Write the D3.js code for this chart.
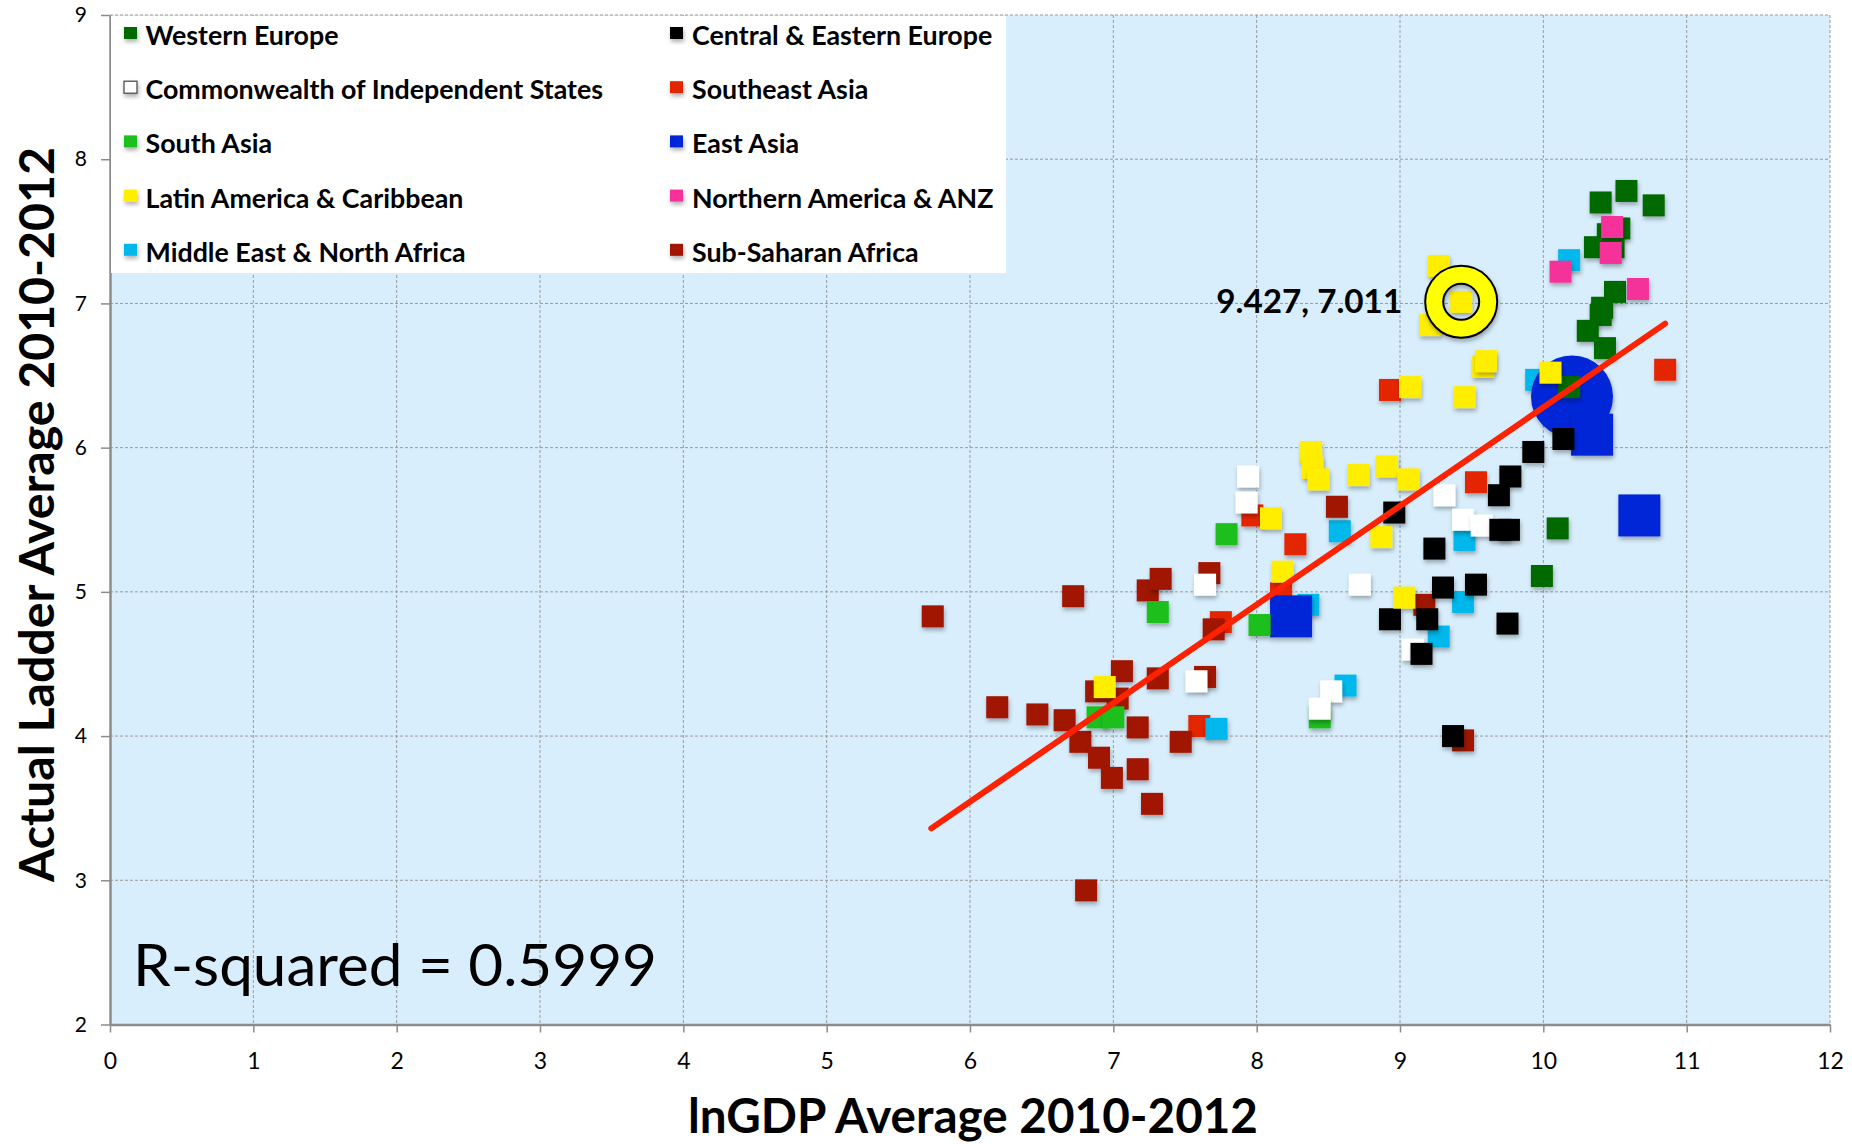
<!DOCTYPE html>
<html><head><meta charset="utf-8">
<script src="https://cdn.jsdelivr.net/npm/d3@7"></script>
<style>body{margin:0;background:#fff;} svg{display:block;}</style>
</head><body><svg id="c" width="1852" height="1144"></svg>
<script>
// ---------------- DATA ----------------
const regions = ["Western Europe","Central & Eastern Europe","Commonwealth of Independent States","Southeast Asia","South Asia","East Asia","Latin America & Caribbean","Northern America & ANZ","Middle East & North Africa","Sub-Saharan Africa"];
const westernEurope = [[10.40,7.70],[10.58,7.78],[10.77,7.68],[10.53,7.52],[10.45,7.48],[10.36,7.39],[10.49,7.39],[10.50,7.08],[10.41,6.97],[10.40,6.92],[10.31,6.81],[10.43,6.69],[10.18,6.42],[10.10,5.44],[9.99,5.11]];
const centralEasternEurope = [[8.96,5.55],[9.69,5.67],[9.77,5.80],[9.93,5.97],[10.14,6.06],[9.70,5.43],[9.76,5.43],[9.24,5.30],[9.30,5.03],[9.53,5.05],[8.93,4.81],[9.19,4.81],[9.15,4.57],[9.75,4.78],[9.37,4.00]];
const commonwealthIndependentStates = [[7.94,5.80],[7.93,5.62],[7.58,4.38],[7.64,5.05],[8.72,5.05],[9.31,5.67],[9.44,5.50],[9.57,5.46],[9.09,4.60],[8.52,4.31],[8.44,4.19]];
const southeastAsia = [[7.97,5.53],[7.75,4.79],[7.60,4.07],[8.27,5.33],[8.17,4.99],[9.53,5.76],[8.93,6.40],[10.85,6.54]];
const southAsia = [[7.31,4.86],[7.79,5.40],[8.02,4.77],[6.89,4.13],[7.00,4.13],[8.44,4.13]];
const eastAsia = [[8.24,4.83],[10.67,5.53],[10.20,6.355],[10.34,6.09]];
const eastAsiaShapes = ["square","square","circle","square"];
const latinAmerica = [[6.94,4.34],[8.10,5.51],[8.18,5.14],[8.38,5.97],[8.39,5.86],[8.43,5.78],[8.71,5.81],[8.91,5.87],[9.06,5.78],[8.87,5.38],[9.03,4.96],[9.27,7.26],[9.21,6.85],[9.427,7.011],[9.07,6.42],[9.45,6.35],[9.58,6.56],[9.60,6.60],[10.05,6.52]];
const northernAmericaANZ = [[10.12,7.22],[10.48,7.53],[10.47,7.35],[10.66,7.10]];
const middleEastNorthAfrica = [[7.72,4.05],[8.36,4.91],[8.58,5.42],[9.45,5.36],[9.44,4.93],[9.27,4.69],[8.62,4.35],[9.95,6.47],[10.18,7.30]];
const subSaharanAfrica = [[5.74,4.83],[6.72,4.97],[6.19,4.20],[6.47,4.15],[6.66,4.11],[6.77,3.96],[6.90,3.85],[6.99,3.71],[7.17,3.77],[7.27,3.53],[6.81,2.93],[7.17,4.06],[7.47,3.96],[7.06,4.45],[7.31,4.40],[6.88,4.31],[7.03,4.26],[7.64,4.41],[7.24,5.01],[7.33,5.09],[7.67,5.13],[7.70,4.74],[8.56,5.59],[9.17,4.91],[9.44,3.97]];
const trendLine = [[5.73,3.36],[10.85,6.86]];
const highlightPoint = [9.427, 7.011];
const highlightLabel = "9.427, 7.011";
const rSquaredLabel = "R-squared = 0.5999";
const xTickLabels = [0,1,2,3,4,5,6,7,8,9,10,11,12];
const yTickLabels = [2,3,4,5,6,7,8,9];
const xTitle = "lnGDP Average 2010-2012";
const yTitle = "Actual Ladder Average 2010-2012";

// ---------------- STYLE ----------------
const seriesData = {
  "Western Europe": westernEurope,
  "Central & Eastern Europe": centralEasternEurope,
  "Commonwealth of Independent States": commonwealthIndependentStates,
  "Southeast Asia": southeastAsia,
  "South Asia": southAsia,
  "East Asia": eastAsia,
  "Latin America & Caribbean": latinAmerica,
  "Northern America & ANZ": northernAmericaANZ,
  "Middle East & North Africa": middleEastNorthAfrica,
  "Sub-Saharan Africa": subSaharanAfrica
};
const colors = {
  "Western Europe":"#006a00",
  "Central & Eastern Europe":"#000000",
  "Commonwealth of Independent States":"#ffffff",
  "Southeast Asia":"#e42800",
  "South Asia":"#1abf1a",
  "East Asia":"#0228d8",
  "Latin America & Caribbean":"#ffee00",
  "Northern America & ANZ":"#f4329a",
  "Middle East & North Africa":"#00b8ec",
  "Sub-Saharan Africa":"#a01500"
};
const drawOrder = ["Southeast Asia","Middle East & North Africa","East Asia","Sub-Saharan Africa","South Asia","Commonwealth of Independent States","Central & Eastern Europe","Western Europe","Latin America & Caribbean","Northern America & ANZ"];

const FONT = "Lato, 'Open Sans', sans-serif";
const L = 110, R = 1830, T = 15, B = 1024.5;
const svg = d3.select("#c");
const x = d3.scaleLinear().domain([0,12]).range([L,R]);
const y = d3.scaleLinear().domain([2,9]).range([B,T]);

const defs = svg.append("defs");
const f = defs.append("filter").attr("id","sh").attr("x","-40%").attr("y","-40%").attr("width","180%").attr("height","190%");
f.append("feDropShadow").attr("dx",1).attr("dy",3).attr("stdDeviation",2).attr("flood-color","#000").attr("flood-opacity",0.3);

// background
svg.append("rect").attr("x",L).attr("y",T).attr("width",R-L).attr("height",B-T).attr("fill","#d8eefc");

// gridlines
const grid = svg.append("g").attr("stroke","#9a9a9a").attr("stroke-width",1).attr("stroke-dasharray","3,2");
grid.selectAll("line.v").data(xTickLabels.filter(d=>d>0)).join("line")
  .attr("x1",d=>x(d)).attr("x2",d=>x(d)).attr("y1",T).attr("y2",B);
grid.selectAll("line.h").data(yTickLabels.filter(d=>d>2)).join("line").attr("class","h")
  .attr("x1",L).attr("x2",R).attr("y1",d=>y(d)).attr("y2",d=>y(d));

// axes
const xAxis = svg.append("g").attr("transform",`translate(0,${B})`)
  .call(d3.axisBottom(x).tickValues(xTickLabels).tickSize(8).tickSizeOuter(0).tickPadding(20).tickFormat(d3.format("d")));
const yAxis = svg.append("g").attr("transform",`translate(${L},0)`)
  .call(d3.axisLeft(y).tickValues(yTickLabels).tickSize(9).tickSizeOuter(0).tickPadding(14).tickFormat(d3.format("d")));
[xAxis,yAxis].forEach(a=>{
  a.select(".domain").attr("stroke","#8c8c8c").attr("stroke-width",2.5);
  a.selectAll(".tick line").attr("stroke","#8c8c8c").attr("stroke-width",1.5);
  a.selectAll(".tick text").attr("fill","#000").attr("font-family",FONT);
});
xAxis.selectAll(".tick text").attr("font-size",23);
yAxis.selectAll(".tick text").attr("font-size",21);

// legend
const lg = svg.append("g");
lg.append("rect").attr("x",L+1).attr("y",T+1).attr("width",895).attr("height",257).attr("fill","#fff");
const legendCols = [ {mx:124, tx:145.5}, {mx:670, tx:692} ];
const legendItems = regions.map((r,i)=>({r, col:i%2, row:Math.floor(i/2)}));
const li = lg.selectAll("g.li").data(legendItems).join("g");
li.append("rect").attr("x",d=>legendCols[d.col].mx).attr("y",d=>27+d.row*54.2)
  .attr("width",13).attr("height",12).attr("fill",d=>colors[d.r])
  .attr("stroke",d=>d.r==="Commonwealth of Independent States"?"#444":"none").attr("stroke-width",1.2)
  .attr("filter","url(#sh)");
const lt = li.append("text").attr("x",d=>legendCols[d.col].tx).attr("y",d=>45+d.row*54.2)
  .attr("font-family",FONT).attr("font-weight","bold").attr("font-size",26).attr("fill","#000").text(d=>d.r);
let kLeg = 1;
lt.each(function(d){ if(d.r==="Western Europe") kLeg = 193/this.getComputedTextLength(); });
lt.each(function(){ const w=this.getComputedTextLength(); d3.select(this).attr("textLength",w*kLeg).attr("lengthAdjust","spacingAndGlyphs"); });

// markers
const SZ = 22, BIG = 42, BIGR = 41;
const mk = svg.append("g");
drawOrder.forEach(r=>{
  const g = mk.append("g");
  const data = seriesData[r].map((p,i)=>({p,i}));
  data.forEach(({p,i})=>{
    const isEA = r==="East Asia";
    const shape = isEA ? eastAsiaShapes[i] : "square";
    const s = isEA ? BIG : SZ;
    if(shape==="circle"){
      g.append("circle").attr("cx",x(p[0])).attr("cy",y(p[1])).attr("r",BIGR).attr("fill",colors[r]).attr("filter","url(#sh)");
    } else {
      g.append("rect").attr("x",x(p[0])-s/2).attr("y",y(p[1])-s/2).attr("width",s).attr("height",s)
        .attr("fill",colors[r]).attr("filter","url(#sh)");
    }
  });
});

// trend line
svg.append("line").attr("x1",x(trendLine[0][0])).attr("y1",y(trendLine[0][1]))
  .attr("x2",x(trendLine[1][0])).attr("y2",y(trendLine[1][1]))
  .attr("stroke","#ff2200").attr("stroke-width",6).attr("stroke-linecap","round");

// highlight ring
const hx = x(highlightPoint[0]), hy = y(highlightPoint[1]);
const ringPath = d3.path();
ringPath.arc(hx,hy,36,0,2*Math.PI); ringPath.moveTo(hx+18,hy); ringPath.arc(hx,hy,18,0,2*Math.PI);
svg.append("path").attr("d",ringPath.toString()).attr("fill","#ffff00").attr("fill-rule","evenodd")
  .attr("stroke","#000").attr("stroke-width",2).attr("filter","url(#sh)");
const ht = svg.append("text").attr("x",hx-59).attr("y",hy+11).attr("text-anchor","end")
  .attr("font-family",FONT).attr("font-weight","bold").attr("font-size",33).attr("fill","#000").text(highlightLabel)
  .attr("textLength",186).attr("lengthAdjust","spacingAndGlyphs");

// R-squared
svg.append("text").attr("x",133).attr("y",986).attr("font-family",FONT).attr("font-size",59).attr("fill","#000")
  .text(rSquaredLabel).attr("textLength",524).attr("lengthAdjust","spacingAndGlyphs");

// axis titles
svg.append("text").attr("x",973).attr("y",1133).attr("text-anchor","middle").attr("font-family",FONT)
  .attr("font-weight","bold").attr("font-size",47).attr("fill","#000").text(xTitle)
  .attr("textLength",570).attr("lengthAdjust","spacingAndGlyphs");
svg.append("text").attr("transform","translate(54,514.5) rotate(-90)").attr("text-anchor","middle").attr("font-family",FONT)
  .attr("font-weight","bold").attr("font-size",47).attr("fill","#000").text(yTitle)
  .attr("textLength",735).attr("lengthAdjust","spacingAndGlyphs");
</script></body></html>
